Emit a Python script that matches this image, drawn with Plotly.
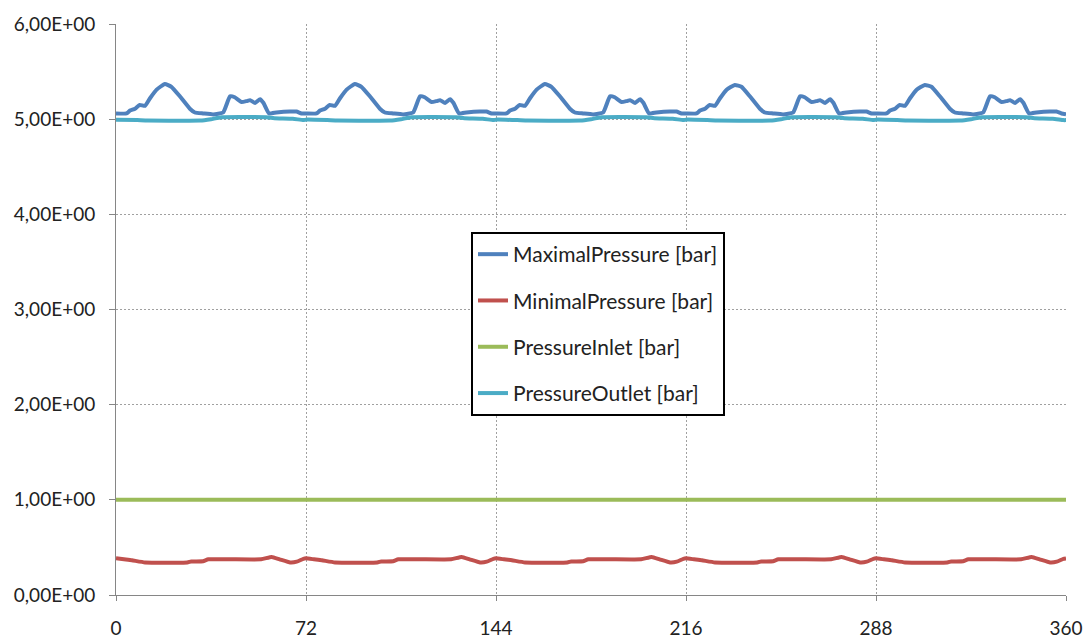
import plotly.graph_objects as go

# ---- data ----
max_x = [0, 4, 5.3, 7.2, 9, 11, 12.9, 15.4, 18.5, 21, 24.2, 28, 29.9, 33, 36.8, 40.6, 43.2, 45, 47.6, 49.5, 50.8, 52.7, 54.6, 55.9, 58, 60.8, 65.9, 68.4, 70.3,
         72, 76, 77.3, 79.2, 81, 83, 84.9, 87.4, 90.5, 93, 96.2, 100, 101.9, 105, 108.8, 112.6, 115.2, 117, 119.6, 121.5, 122.8, 124.7, 126.6, 127.9, 130, 132.8, 137.9, 140.4, 142.3,
         144, 148, 149.3, 151.2, 153, 155, 156.9, 159.4, 162.5, 165, 168.2, 172, 173.9, 177, 180.8, 184.6, 187.2, 189, 191.6, 193.5, 194.8, 196.7, 198.6, 199.9, 202, 204.8, 209.9, 212.4, 214.3,
         216, 220, 221.3, 223.2, 225, 227, 228.9, 231.4, 234.5, 237, 240.2, 244, 245.9, 249, 252.8, 256.6, 259.2, 261, 263.6, 265.5, 266.8, 268.7, 270.6, 271.9, 274, 276.8, 281.9, 284.4, 286.3,
         288, 292, 293.3, 295.2, 297, 299, 300.9, 303.4, 306.5, 309, 312.2, 316, 317.9, 321, 324.8, 328.6, 331.2, 333, 335.6, 337.5, 338.8, 340.7, 342.6, 343.9, 346, 348.8, 353.9, 356.4, 358.3, 360]
max_y = [5.06, 5.06, 5.09, 5.11, 5.15, 5.14, 5.22, 5.31, 5.37, 5.34, 5.24, 5.11, 5.07, 5.06, 5.05, 5.07, 5.24, 5.23, 5.18, 5.19, 5.20, 5.17, 5.21, 5.17, 5.06, 5.07, 5.08, 5.08, 5.06,
         5.06, 5.06, 5.09, 5.11, 5.15, 5.14, 5.22, 5.31, 5.37, 5.34, 5.24, 5.11, 5.07, 5.06, 5.05, 5.07, 5.24, 5.23, 5.18, 5.19, 5.20, 5.17, 5.21, 5.17, 5.06, 5.07, 5.08, 5.08, 5.06,
         5.06, 5.06, 5.09, 5.11, 5.15, 5.14, 5.22, 5.31, 5.37, 5.34, 5.24, 5.11, 5.07, 5.06, 5.05, 5.07, 5.24, 5.23, 5.18, 5.19, 5.20, 5.17, 5.21, 5.17, 5.06, 5.07, 5.08, 5.08, 5.06,
         5.06, 5.06, 5.09, 5.11, 5.15, 5.14, 5.22, 5.31, 5.36, 5.34, 5.24, 5.11, 5.07, 5.06, 5.05, 5.07, 5.24, 5.23, 5.18, 5.19, 5.20, 5.17, 5.21, 5.17, 5.06, 5.07, 5.08, 5.08, 5.06,
         5.06, 5.06, 5.09, 5.11, 5.15, 5.14, 5.22, 5.31, 5.36, 5.34, 5.24, 5.11, 5.07, 5.06, 5.05, 5.07, 5.24, 5.23, 5.18, 5.19, 5.20, 5.17, 5.21, 5.17, 5.06, 5.07, 5.08, 5.08, 5.06, 5.05]

min_x = [0, 3, 6, 11, 27, 28.5, 33, 35, 55, 59, 62, 66, 68.5, 71,
         72, 75, 78, 83, 99, 100.5, 105, 107, 127, 131, 134, 138, 140.5, 143,
         144, 147, 150, 155, 171, 172.5, 177, 179, 199, 203, 206, 210, 212.5, 215,
         216, 219, 222, 227, 243, 244.5, 249, 251, 271, 275, 278, 282, 284.5, 287,
         288, 291, 294, 299, 315, 316.5, 321, 323, 343, 347, 350, 354, 356.5, 359, 360]
min_y = [0.385, 0.375, 0.365, 0.342, 0.342, 0.352, 0.355, 0.375, 0.375, 0.40, 0.375, 0.342, 0.35, 0.38,
         0.385, 0.375, 0.365, 0.342, 0.342, 0.352, 0.355, 0.375, 0.375, 0.40, 0.375, 0.342, 0.35, 0.38,
         0.385, 0.375, 0.365, 0.342, 0.342, 0.352, 0.355, 0.375, 0.375, 0.40, 0.375, 0.342, 0.35, 0.38,
         0.385, 0.375, 0.365, 0.342, 0.342, 0.352, 0.355, 0.375, 0.375, 0.40, 0.375, 0.342, 0.35, 0.38,
         0.385, 0.375, 0.365, 0.342, 0.342, 0.352, 0.355, 0.375, 0.375, 0.40, 0.375, 0.342, 0.35, 0.38, 0.385]

inlet_x = [0, 72, 144, 216, 288, 360]
inlet_y = [1.0, 1.0, 1.0, 1.0, 1.0, 1.0]

out_x = [0, 8, 12, 32, 36, 40, 57, 60, 67, 71,
         72, 80, 84, 104, 108, 112, 129, 132, 139, 143,
         144, 152, 156, 176, 180, 184, 201, 204, 211, 215,
         216, 224, 228, 248, 252, 256, 273, 276, 283, 287,
         288, 296, 300, 320, 324, 328, 345, 348, 355, 359, 360]
out_y = [4.995, 4.99, 4.985, 4.985, 5.00, 5.02, 5.02, 5.01, 5.005, 4.99,
         4.995, 4.99, 4.985, 4.985, 5.00, 5.02, 5.02, 5.01, 5.005, 4.99,
         4.995, 4.99, 4.985, 4.985, 5.00, 5.02, 5.02, 5.01, 5.005, 4.99,
         4.995, 4.99, 4.985, 4.985, 5.00, 5.02, 5.02, 5.01, 5.005, 4.99,
         4.995, 4.99, 4.985, 4.985, 5.00, 5.02, 5.02, 5.01, 5.005, 4.99, 4.99]

y_ticks = [0, 1, 2, 3, 4, 5, 6]
y_labels = ["0,00E+00", "1,00E+00", "2,00E+00", "3,00E+00", "4,00E+00", "5,00E+00", "6,00E+00"]
x_ticks = [0, 72, 144, 216, 288, 360]

names = ["MaximalPressure [bar]", "MinimalPressure [bar]", "PressureInlet [bar]", "PressureOutlet [bar]"]
colors = ["#4F81BD", "#C0504D", "#9BBB59", "#4BACC6"]

FONT = "Lato"

fig = go.Figure()
series = [(max_x, max_y), (min_x, min_y), (inlet_x, inlet_y), (out_x, out_y)]
for i, ((xs, ys), nm, c) in enumerate(zip(series, names, colors)):
    fig.add_trace(go.Scatter(x=xs, y=ys, mode="lines", name=nm, legendgroup=f"g{i}",
                             line=dict(color=c, width=4, shape="spline", smoothing=0.4)))

fig.update_layout(
    width=1084, height=639,
    margin=dict(l=116, r=18, t=24, b=44),
    paper_bgcolor="white", plot_bgcolor="white",
    font=dict(family=FONT, size=19, color="#222222"),
    showlegend=True,
    legend=dict(x=0.3737, y=0.6357, xanchor="left", yanchor="top",
                bgcolor="white", bordercolor="black", borderwidth=2,
                font=dict(family=FONT, size=21, color="#222222"),
                tracegroupgap=16, traceorder="grouped"),
)
fig.update_xaxes(range=[0, 360], tickvals=x_ticks, ticktext=[str(v) for v in x_ticks],
                 tickfont=dict(size=19),
                 showline=True, linecolor="#868686", linewidth=1,
                 ticks="outside", ticklen=5, tickcolor="#868686",
                 ticklabelstandoff=11, automargin=False,
                 showgrid=True, gridcolor="#A0A0A0", griddash="2px,2px", gridwidth=1,
                 zeroline=False)
fig.update_yaxes(range=[0, 6], tickvals=y_ticks, ticktext=y_labels,
                 tickfont=dict(size=19),
                 showline=True, linecolor="#868686", linewidth=1,
                 ticks="outside", ticklen=6, tickcolor="#868686",
                 ticklabelstandoff=10, automargin=False,
                 showgrid=True, gridcolor="#A0A0A0", griddash="2px,2px", gridwidth=1,
                 zeroline=False)

fig.write_html("out.html")
